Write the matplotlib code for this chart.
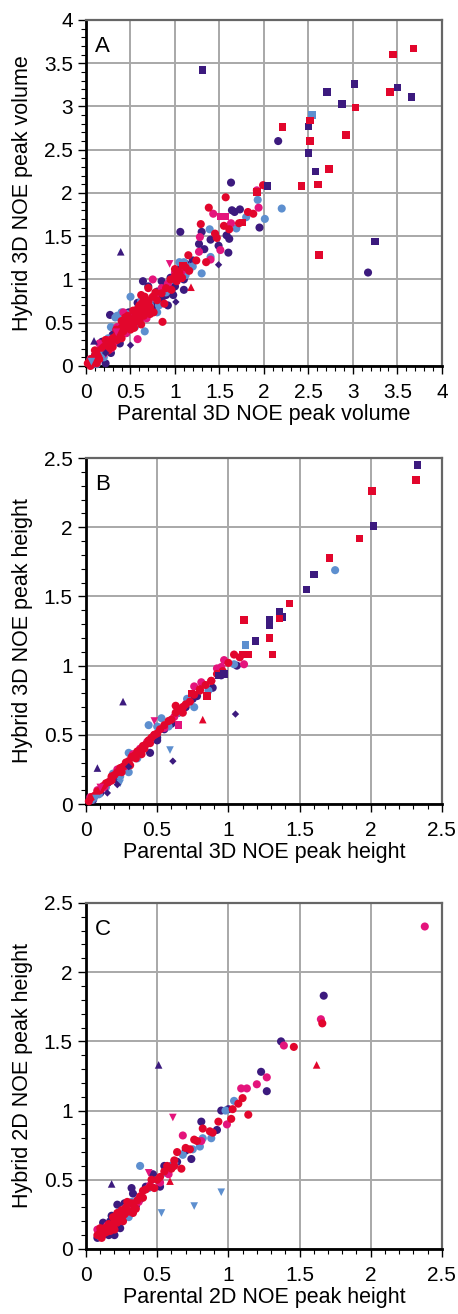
import numpy as np
import matplotlib.pyplot as plt
from matplotlib.ticker import MultipleLocator

plt.rcParams['font.family'] = ['Liberation Sans', 'DejaVu Sans']

PURPLE = '#3c1a7e'
BLUE = '#5d8fcf'
PINK = '#e4147c'
RED = '#e2062c'

# ---------------- panel A : 3D NOE peak volume ----------------
a_purple_o = [(0.05, 0.03), (0.1, 0.12), (0.15, 0.1), (0.2, 0.22), (0.25, 0.2), (0.3, 0.36), (0.35, 0.3),
              (0.4, 0.45), (0.45, 0.38), (0.5, 0.56), (0.55, 0.5), (0.6, 0.64), (0.65, 0.58), (0.7, 0.72),
              (0.75, 0.68), (0.8, 0.86), (0.85, 0.78), (0.9, 0.82), (0.95, 1.02), (1.0, 0.92), (1.05, 1.12),
              (1.1, 1.0), (0.12, 0.05), (0.28, 0.15), (0.42, 0.5), (0.62, 0.56), (0.78, 0.74), (0.88, 0.9),
              (0.98, 0.82), (1.08, 1.06), (2.16, 2.60), (3.17, 1.08), (1.63, 2.12), (1.64, 1.80), (1.67, 1.78),
              (1.73, 1.81), (1.95, 1.60), (1.06, 1.55), (1.30, 1.55), (1.27, 1.41), (1.40, 1.46), (1.58, 1.51),
              (1.61, 1.47), (1.49, 1.39), (1.60, 1.31), (1.33, 1.35), (0.27, 0.59), (0.22, 0.03), (0.64, 0.98),
              (1.10, 0.88), (1.20, 1.22), (0.58, 0.73), (0.32, 0.42), (0.48, 0.62), (0.7, 0.92), (0.92, 0.7),
              (0.18, 0.28), (0.38, 0.26), (0.85, 0.98), (1.12, 1.18), (0.08, 0.02)]
a_blue_o = [(0.08, 0.06), (0.15, 0.18), (0.22, 0.2), (0.3, 0.28), (0.38, 0.4), (0.45, 0.55), (0.52, 0.5),
            (0.6, 0.58), (0.68, 0.64), (0.75, 0.78), (0.82, 0.7), (0.9, 0.85), (0.97, 1.0), (1.05, 1.2),
            (1.12, 1.05), (1.2, 1.15), (0.33, 0.56), (0.4, 0.62), (0.55, 0.45), (0.72, 0.7), (1.15, 1.14),
            (0.25, 0.32), (0.35, 0.58), (0.46, 0.60), (0.66, 0.40), (1.30, 1.07), (1.40, 1.26), (1.39, 1.58),
            (1.69, 1.59), (1.80, 1.72), (2.01, 1.70), (1.93, 1.92), (2.20, 1.82), (1.10, 1.20), (0.12, 0.02),
            (0.5, 0.8), (0.28, 0.45), (0.8, 0.62), (0.62, 0.75), (0.2, 0.1)]
a_pink_o = [(0.05, 0.08), (0.12, 0.1), (0.18, 0.22), (0.25, 0.3), (0.32, 0.28), (0.4, 0.45), (0.48, 0.52),
            (0.55, 0.6), (0.62, 0.72), (0.7, 0.75), (0.78, 0.82), (0.85, 0.9), (0.92, 0.95), (1.0, 1.08),
            (1.08, 1.1), (0.28, 0.2), (0.45, 0.38), (0.6, 0.66), (0.75, 1.0), (0.58, 0.31), (1.27, 1.32),
            (1.28, 1.49), (1.40, 1.23), (1.43, 1.76), (1.51, 1.34), (1.63, 1.65), (1.94, 1.83), (1.92, 2.03),
            (0.52, 0.48), (0.2, 0.14), (0.35, 0.45), (0.68, 0.55), (0.42, 0.62), (0.15, 0.26)]
a_red_o = [(0.02, 0.03), (0.04, 0.05), (0.06, 0.08), (0.08, 0.06), (0.1, 0.12), (0.12, 0.14), (0.14, 0.12),
           (0.16, 0.18), (0.18, 0.2), (0.2, 0.22), (0.22, 0.2), (0.24, 0.26), (0.26, 0.28), (0.28, 0.25),
           (0.3, 0.32), (0.33, 0.34), (0.36, 0.38), (0.38, 0.36), (0.4, 0.44), (0.42, 0.4), (0.45, 0.48),
           (0.48, 0.46), (0.5, 0.52), (0.52, 0.5), (0.55, 0.56), (0.58, 0.6), (0.6, 0.58), (0.62, 0.64),
           (0.65, 0.66), (0.68, 0.7), (0.7, 0.74), (0.72, 0.68), (0.75, 0.8), (0.8, 0.76), (0.85, 0.84),
           (0.9, 0.9), (0.95, 1.0), (1.0, 1.04), (1.02, 0.98), (1.05, 1.08), (1.08, 1.02), (1.12, 1.14),
           (1.16, 1.1), (0.55, 0.62), (0.6, 0.7), (0.65, 0.58), (0.45, 0.52), (0.35, 0.3), (0.25, 0.18),
           (0.15, 0.08), (0.7, 0.9), (0.62, 0.82), (0.5, 0.42), (0.4, 0.32), (0.3, 0.22), (0.57, 0.52),
           (0.67, 0.62), (0.86, 0.51), (1.15, 1.28), (1.24, 1.22), (1.29, 1.64), (1.38, 1.83), (1.45, 1.53),
           (1.47, 1.48), (1.57, 1.95), (1.61, 1.58), (1.72, 1.65), (1.82, 1.78), (1.88, 1.76), (1.99, 2.09),
           (1.55, 1.62), (1.35, 1.20), (0.88, 0.72), (0.78, 0.85), (0.6, 0.52), (0.64, 0.74), (0.66, 0.8),
           (0.72, 0.6), (0.58, 0.66), (0.54, 0.44), (0.44, 0.56), (0.34, 0.42), (0.22, 0.3), (0.1, 0.18),
           (0.05, 0.0), (0.12, 0.03), (0.4, 0.52), (0.47, 0.58), (0.53, 0.64), (0.76, 0.62), (1.0, 1.12),
           (0.96, 0.88), (0.68, 0.76), (0.62, 0.48)]
a_purple_s = [(1.31, 3.42), (2.71, 3.17), (3.02, 3.26), (2.88, 3.03), (3.50, 3.22), (3.66, 3.11), (2.50, 2.77),
              (2.50, 2.46), (2.58, 2.25), (2.04, 2.08), (3.25, 1.44)]
a_red_s = [(3.45, 3.60), (3.68, 3.67), (3.03, 2.99), (3.42, 3.17), (2.52, 2.84), (2.21, 2.76), (2.52, 2.60),
           (2.92, 2.67), (2.73, 2.28), (2.61, 2.10), (2.42, 2.08), (1.92, 2.01), (2.62, 1.28), (1.76, 1.66),
           (1.09, 1.16), (1.06, 1.02)]
a_blue_s = [(2.54, 2.90)]
a_pink_s = [(1.51, 1.73), (1.57, 1.73)]
a_purple_up = [(0.39, 1.32), (0.09, 0.29)]
a_red_up = [(1.18, 0.91)]
a_pink_down = [(0.94, 1.18), (0.34, 0.39)]
a_blue_down = [(0.06, 0.05), (0.2, 0.12)]
a_purple_d = [(1.49, 1.17), (1.01, 0.74), (0.50, 0.24), (0.22, 0.15)]

# ---------------- panel B : 3D NOE peak height ----------------
b_purple_o = [(0.05, 0.03), (0.1, 0.08), (0.15, 0.15), (0.2, 0.18), (0.25, 0.26), (0.3, 0.29), (0.35, 0.34),
              (0.4, 0.41), (0.45, 0.37), (0.5, 0.48), (0.55, 0.54), (0.6, 0.58), (0.65, 0.66), (0.7, 0.7),
              (0.75, 0.76), (0.78, 0.78), (0.89, 0.84), (0.95, 0.93), (1.06, 1.0), (0.5, 0.46)]
b_blue_o = [(0.04, 0.03), (0.09, 0.07), (0.14, 0.12), (0.19, 0.22), (0.24, 0.2), (0.3, 0.23), (0.3, 0.37),
            (0.36, 0.33), (0.44, 0.57), (0.5, 0.56), (0.53, 0.62), (0.58, 0.56), (0.64, 0.66), (0.71, 0.76),
            (0.76, 0.7), (0.86, 0.82), (0.96, 0.95), (1.04, 1.01), (1.75, 1.69)]
b_pink_o = [(0.03, 0.05), (0.08, 0.1), (0.13, 0.12), (0.18, 0.19), (0.22, 0.25), (0.27, 0.27), (0.33, 0.36),
            (0.38, 0.4), (0.43, 0.45), (0.48, 0.5), (0.55, 0.55), (0.62, 0.63), (0.68, 0.7), (0.76, 0.85),
            (0.81, 0.88), (0.92, 0.98), (0.97, 1.04), (1.11, 1.01), (0.95, 0.99)]
b_red_o = [(0.02, 0.02), (0.04, 0.05), (0.06, 0.06), (0.08, 0.09), (0.1, 0.1), (0.12, 0.13), (0.14, 0.15),
           (0.16, 0.16), (0.18, 0.2), (0.2, 0.21), (0.22, 0.23), (0.24, 0.26), (0.26, 0.27), (0.28, 0.3),
           (0.3, 0.31), (0.32, 0.34), (0.34, 0.35), (0.36, 0.38), (0.38, 0.39), (0.4, 0.42), (0.42, 0.43),
           (0.44, 0.46), (0.46, 0.48), (0.48, 0.5), (0.5, 0.51), (0.52, 0.54), (0.55, 0.57), (0.58, 0.6),
           (0.6, 0.61), (0.63, 0.66), (0.66, 0.68), (0.7, 0.72), (0.73, 0.74), (0.76, 0.79), (0.8, 0.82),
           (0.84, 0.86), (0.88, 0.89), (0.92, 0.94), (0.96, 0.96), (1.0, 1.02), (1.04, 1.08), (1.08, 1.06),
           (0.25, 0.23), (0.35, 0.33), (0.45, 0.44), (0.41, 0.4), (0.31, 0.28), (0.68, 0.66), (0.63, 0.71),
           (0.68, 0.70), (0.80, 0.83), (0.88, 0.89), (0.18, 0.17), (0.39, 0.36)]
b_purple_s = [(2.33, 2.45), (2.02, 2.01), (1.60, 1.66), (1.55, 1.55), (1.36, 1.39), (1.38, 1.35), (1.29, 1.33),
              (1.29, 1.29), (1.19, 1.18), (0.97, 0.94), (0.93, 0.93)]
b_red_s = [(2.32, 2.34), (2.01, 2.26), (1.92, 1.92), (1.71, 1.78), (1.43, 1.45), (1.36, 1.34), (1.11, 1.33),
           (1.29, 1.20), (1.31, 1.08), (1.14, 1.08), (1.10, 1.08), (0.85, 0.78), (0.74, 0.80)]
b_blue_s = [(1.12, 1.15)]
b_pink_s = [(0.65, 0.57)]
b_purple_up = [(0.26, 0.74), (0.08, 0.26)]
b_red_up = [(0.82, 0.61)]
b_pink_down = [(0.48, 0.60), (0.10, 0.12)]
b_blue_down = [(0.59, 0.39), (0.07, 0.04), (0.24, 0.15)]
b_purple_d = [(1.05, 0.65), (0.61, 0.31), (0.30, 0.27), (0.22, 0.14), (0.15, 0.08), (0.45, 0.37)]

# ---------------- panel C : 2D NOE peak height ----------------
c_purple_o = [(0.08, 0.08), (0.1, 0.1), (0.12, 0.14), (0.14, 0.11), (0.17, 0.2), (0.2, 0.17), (0.22, 0.32),
              (0.25, 0.24), (0.27, 0.33), (0.3, 0.27), (0.32, 0.44), (0.35, 0.31), (0.38, 0.36), (0.42, 0.45),
              (0.47, 0.54), (0.52, 0.45), (0.55, 0.6), (0.6, 0.6), (0.64, 0.63), (0.7, 0.71), (0.74, 0.65),
              (0.81, 0.92), (0.92, 0.86), (0.95, 1.0), (1.0, 1.01), (1.23, 1.28), (1.27, 1.14), (1.37, 1.50),
              (1.67, 1.83), (0.2, 0.1), (0.33, 0.4), (0.18, 0.24), (0.12, 0.19), (0.16, 0.1), (0.24, 0.15)]
c_blue_o = [(0.1, 0.09), (0.13, 0.14), (0.16, 0.15), (0.2, 0.22), (0.24, 0.26), (0.28, 0.3), (0.32, 0.34),
            (0.36, 0.35), (0.38, 0.60), (0.44, 0.44), (0.5, 0.5), (0.56, 0.55), (0.62, 0.62), (0.68, 0.68),
            (0.75, 0.72), (0.8, 0.74), (0.82, 0.8), (0.88, 0.80), (0.98, 1.0), (1.04, 1.07), (0.3, 0.23)]
c_pink_o = [(0.08, 0.14), (0.11, 0.1), (0.15, 0.17), (0.19, 0.16), (0.23, 0.24), (0.3, 0.28), (0.37, 0.34),
            (0.45, 0.46), (0.58, 0.54), (0.68, 0.82), (0.81, 0.78), (0.99, 0.90), (1.09, 1.16), (1.13, 1.16),
            (1.20, 1.19), (1.27, 1.24), (1.39, 1.47), (1.65, 1.66), (2.38, 2.33), (0.52, 0.48)]
c_red_o = [(0.08, 0.1), (0.1, 0.12), (0.12, 0.11), (0.13, 0.15), (0.15, 0.14), (0.16, 0.18), (0.18, 0.16),
           (0.2, 0.2), (0.22, 0.19), (0.24, 0.23), (0.25, 0.28), (0.27, 0.25), (0.28, 0.3), (0.3, 0.27),
           (0.32, 0.33), (0.34, 0.3), (0.36, 0.35), (0.38, 0.38), (0.4, 0.37), (0.42, 0.43), (0.45, 0.45),
           (0.48, 0.44), (0.5, 0.5), (0.52, 0.52), (0.55, 0.56), (0.57, 0.6), (0.6, 0.58), (0.62, 0.64),
           (0.64, 0.7), (0.67, 0.58), (0.7, 0.73), (0.73, 0.72), (0.76, 0.79), (0.78, 0.78), (0.82, 0.87),
           (0.87, 0.85), (0.89, 0.84), (0.93, 0.92), (1.02, 0.94), (1.03, 1.01), (1.07, 1.05), (1.10, 1.09),
           (1.14, 0.97), (1.46, 1.46), (1.66, 1.63), (0.2, 0.14), (0.25, 0.22), (0.22, 0.26), (0.35, 0.29),
           (0.14, 0.12), (0.17, 0.13), (0.11, 0.08), (0.1, 0.15), (0.19, 0.23), (0.26, 0.2), (0.29, 0.34),
           (0.33, 0.26), (0.4, 0.42), (0.46, 0.5), (0.62, 0.6)]
c_purple_up = [(0.51, 1.33), (0.18, 0.47)]
c_red_up = [(1.62, 1.33), (0.59, 0.49)]
c_pink_down = [(0.61, 0.95), (0.44, 0.55)]
c_blue_down = [(0.95, 0.41), (0.76, 0.31), (0.53, 0.26)]

panels = [
    dict(label='A', lim=4.0, xlabel='Parental 3D NOE peak volume', ylabel='Hybrid 3D NOE peak volume',
         sets=[(a_purple_o, PURPLE, 'o'), (a_blue_o, BLUE, 'o'), (a_pink_o, PINK, 'o'), (a_red_o, RED, 'o'),
               (a_purple_s, PURPLE, 's'), (a_blue_s, BLUE, 's'), (a_pink_s, PINK, 's'), (a_red_s, RED, 's'),
               (a_purple_up, PURPLE, '^'), (a_red_up, RED, '^'), (a_pink_down, PINK, 'v'),
               (a_blue_down, BLUE, 'v'), (a_purple_d, PURPLE, 'D')]),
    dict(label='B', lim=2.5, xlabel='Parental 3D NOE peak height', ylabel='Hybrid 3D NOE peak height',
         sets=[(b_purple_o, PURPLE, 'o'), (b_blue_o, BLUE, 'o'), (b_pink_o, PINK, 'o'), (b_red_o, RED, 'o'),
               (b_purple_s, PURPLE, 's'), (b_blue_s, BLUE, 's'), (b_pink_s, PINK, 's'), (b_red_s, RED, 's'),
               (b_purple_up, PURPLE, '^'), (b_red_up, RED, '^'), (b_pink_down, PINK, 'v'),
               (b_blue_down, BLUE, 'v'), (b_purple_d, PURPLE, 'D')]),
    dict(label='C', lim=2.5, xlabel='Parental 2D NOE peak height', ylabel='Hybrid 2D NOE peak height',
         sets=[(c_purple_o, PURPLE, 'o'), (c_blue_o, BLUE, 'o'), (c_pink_o, PINK, 'o'), (c_red_o, RED, 'o'),
               (c_purple_up, PURPLE, '^'), (c_red_up, RED, '^'), (c_pink_down, PINK, 'v'),
               (c_blue_down, BLUE, 'v')]),
]

fig = plt.figure(figsize=(4.58, 13.14), dpi=100)
bottoms = [0.7215, 0.3881, 0.0495]
sizes = {'o': 34, 's': 30, '^': 30, 'v': 30, 'D': 14}

for p, b in zip(panels, bottoms):
    ax = fig.add_axes([0.1878, b, 0.777, 0.2633])
    for pts, col, mk in p['sets']:
        xy = np.array(pts)
        ax.scatter(xy[:, 0], xy[:, 1], s=sizes[mk], c=col, marker=mk, edgecolors='none', zorder=3,
                   clip_on=False)
    ax.set_xlim(0, p['lim'])
    ax.set_ylim(0, p['lim'])
    ax.xaxis.set_major_locator(MultipleLocator(0.5))
    ax.yaxis.set_major_locator(MultipleLocator(0.5))
    ax.xaxis.set_minor_locator(MultipleLocator(0.1))
    ax.yaxis.set_minor_locator(MultipleLocator(0.1))
    ax.xaxis.set_major_formatter(lambda v, pos: f'{v:g}')
    ax.yaxis.set_major_formatter(lambda v, pos: f'{v:g}')
    ax.grid(True, which='major', color='#a8a8a8', lw=1.4, zorder=0)
    ax.set_axisbelow(True)
    for side in ('left', 'bottom'):
        ax.spines[side].set_linewidth(2.0)
        ax.spines[side].set_color('black')
    for side in ('top', 'right'):
        ax.spines[side].set_linewidth(1.6)
        ax.spines[side].set_color('#666666')
    ax.tick_params(which='major', direction='out', length=5.5, width=1.0, labelsize=15)
    ax.tick_params(which='minor', direction='out', length=3.5, width=0.8)
    ax.tick_params(axis='x', which='major', pad=7)
    ax.tick_params(axis='y', which='major', pad=4)
    ax.set_xlabel(p['xlabel'], fontsize=15.5, labelpad=1)
    ax.set_ylabel(p['ylabel'], fontsize=15.5, labelpad=8)
    ax.text(0.025, 0.955, p['label'], transform=ax.transAxes, fontsize=16, va='top', ha='left')

fig.savefig('out.png', dpi=100)
